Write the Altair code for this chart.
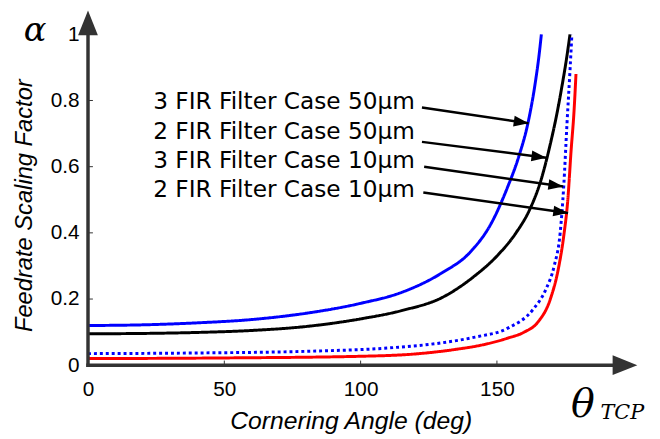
import altair as alt
import pandas as pd
import numpy as np

# ---------------- data ----------------
series_names = ["3 FIR Filter Case 50µm", "2 FIR Filter Case 50µm",
                "3 FIR Filter Case 10µm", "2 FIR Filter Case 10µm"]
series_colors = ["#0000ff", "#000000", "#0000ff", "#ff0000"]

blue50_x = [0, 20, 40, 60, 80, 100, 115, 130, 140, 148, 154, 158, 161.6, 164, 165.5, 166.3]
blue50_y = [0.12, 0.122, 0.128, 0.138, 0.157, 0.187, 0.22, 0.28, 0.34, 0.43, 0.54, 0.63, 0.74, 0.85, 0.94, 1.0]

black50_x = [0, 20, 40, 60, 80, 100, 115, 130, 141.7, 150, 157, 162, 166, 169.6, 172, 174, 175.6, 176.8]
black50_y = [0.095, 0.096, 0.099, 0.105, 0.117, 0.14, 0.165, 0.205, 0.269, 0.33, 0.40, 0.47, 0.555, 0.669, 0.76, 0.85, 0.93, 1.0]

blue10_x = [0, 40, 80, 110, 130, 142, 154, 163.4, 168, 171, 173.2, 174.5, 175.7, 176.8, 177.5]
blue10_y = [0.035, 0.037, 0.042, 0.052, 0.068, 0.085, 0.112, 0.17, 0.23, 0.30, 0.40, 0.54, 0.73, 0.89, 1.0]

red10_x = [0, 50, 100, 120, 135, 145, 154, 160, 165, 169.6, 172.5, 174.5, 176, 177.2, 178.3, 179]
red10_y = [0.02, 0.022, 0.027, 0.034, 0.048, 0.062, 0.082, 0.1, 0.13, 0.2, 0.29, 0.39, 0.5, 0.648, 0.77, 0.88]

# annotation labels and arrows (data coordinates)
label_x = [23.9, 23.9, 23.9, 23.9]
label_y = [0.773, 0.684, 0.597, 0.507]
arrow_x1 = [122.5, 122.5, 123.3, 123.0]
arrow_y1 = [0.779, 0.675, 0.600, 0.522]
arrow_x2 = [161.6, 168.1, 174.3, 176.1]
arrow_y2 = [0.731, 0.627, 0.540, 0.460]

x_ticks = [0, 50, 100, 150]
y_ticks = [0, 0.2, 0.4, 0.6, 0.8, 1]

# math symbols
sym_text = ["α", "θ", "TCP"]
sym_x = [-23.6, 177.2, 188.0]
sym_y = [0.979, -0.158, -0.164]
sym_size = [34, 40, 21]

# ---------------- chart ----------------
W, H = 552, 359
XMAX, YMAX = 200.0, 1.0716
px_x = W / XMAX
px_y = H / YMAX

xs = alt.Scale(domain=[0, XMAX], nice=False, zero=False)
ys = alt.Scale(domain=[0, YMAX], nice=False, zero=False)

rows = []
for name, xx, yy in zip(series_names,
                        [blue50_x, black50_x, blue10_x, red10_x],
                        [blue50_y, black50_y, blue10_y, red10_y]):
    for i, (a, b) in enumerate(zip(xx, yy)):
        rows.append({"series": name, "x": a, "y": b, "i": i})
curves = pd.DataFrame(rows)

lines = alt.Chart(curves).mark_line(strokeWidth=3, interpolate="monotone").encode(
    x=alt.X("x:Q", scale=xs,
            axis=alt.Axis(values=x_ticks, domain=False, ticks=False, grid=False,
                          labelFlush=False, labelFont="Liberation Sans", labelFontSize=21,
                          labelColor="#000", labelPadding=14,
                          title="Cornering Angle (deg)", titleFont="Liberation Sans",
                          titleFontSize=25, titleFontStyle="italic", titleFontWeight="normal",
                          titleColor="#000", titleX=266, titleY=64,
                          titleBaseline="alphabetic", titleAlign="center")),
    y=alt.Y("y:Q", scale=ys,
            axis=alt.Axis(values=y_ticks, format="~g", domain=False, ticks=False, grid=False,
                          labelFlush=False, labelFont="Liberation Sans", labelFontSize=21,
                          labelColor="#000", labelPadding=9,
                          title="Feedrate Scaling Factor", titleFont="Liberation Sans",
                          titleFontSize=24, titleFontStyle="italic", titleFontWeight="normal",
                          titleColor="#000", titleX=-57, titleY=197, titleAngle=270,
                          titleBaseline="alphabetic", titleAlign="center")),
    color=alt.Color("series:N", scale=alt.Scale(domain=series_names, range=series_colors), legend=None),
    strokeDash=alt.StrokeDash("series:N", scale=alt.Scale(domain=series_names,
                              range=[[1, 0], [1, 0], [3, 3], [1, 0]]), legend=None),
    detail="series:N",
    order="i:Q",
)

ann = pd.DataFrame({"label": series_names, "lx": label_x, "ly": label_y,
                    "x1": arrow_x1, "y1": arrow_y1, "x2": arrow_x2, "y2": arrow_y2})
ann["ang"] = np.degrees(np.arctan2(-(ann["y2"] - ann["y1"]) * px_y, (ann["x2"] - ann["x1"]) * px_x))

labels = alt.Chart(ann).mark_text(align="left", baseline="alphabetic", font="DejaVu Sans",
                                  fontSize=23.5, color="#000").encode(
    x=alt.X("lx:Q", scale=xs), y=alt.Y("ly:Q", scale=ys), text="label:N")

arrow_lines = alt.Chart(ann).mark_rule(strokeWidth=2.5, color="#000").encode(
    x=alt.X("x1:Q", scale=xs), y=alt.Y("y1:Q", scale=ys), x2="x2:Q", y2="y2:Q")

arrow_heads = alt.Chart(ann).mark_point(shape="M0,0 L-2,-0.72 L-2,0.72 Z", filled=True,
                                        size=225, color="#000", opacity=1, strokeWidth=0).encode(
    x=alt.X("x2:Q", scale=xs), y=alt.Y("y2:Q", scale=ys), angle=alt.Angle("ang:Q", scale=None))

# axes with arrowheads
axis_df = pd.DataFrame({"x": [0], "y": [0], "xe": [XMAX - 25 / px_x + 1], "ye": [YMAX - 25 / px_y + 0.01]})
x_axis = alt.Chart(axis_df).mark_rule(strokeWidth=3.5, color="#333333", strokeCap="square").encode(
    x=alt.X("x:Q", scale=xs), x2="xe:Q", y=alt.Y("y:Q", scale=ys))
y_axis = alt.Chart(axis_df).mark_rule(strokeWidth=3.5, color="#333333", strokeCap="square").encode(
    x=alt.X("x:Q", scale=xs), y=alt.Y("y:Q", scale=ys), y2="ye:Q")

tip_df = pd.DataFrame({"tx": [XMAX + 1.5], "ty": [0.0], "ux": [0.0], "uy": [YMAX]})
x_tip = alt.Chart(tip_df).mark_point(shape="M0,0 L-2,-0.8 L-2,0.8 Z", filled=True, size=625,
                                     color="#333333", opacity=1, strokeWidth=0).encode(
    x=alt.X("tx:Q", scale=xs), y=alt.Y("ty:Q", scale=ys))
y_tip = alt.Chart(tip_df).mark_point(shape="M0,0 L-0.8,2 L0.8,2 Z", filled=True, size=625,
                                     color="#333333", opacity=1, strokeWidth=0).encode(
    x=alt.X("ux:Q", scale=xs), y=alt.Y("uy:Q", scale=ys))

xt = pd.DataFrame({"v": [50, 100, 150], "z": [0.0] * 3, "h": [0.014] * 3})
yt = pd.DataFrame({"v": [0.2, 0.4, 0.6, 0.8], "z": [0.0] * 4, "h": [1.8] * 4})
x_tick_marks = alt.Chart(xt).mark_rule(strokeWidth=1, color="#333333").encode(
    x=alt.X("v:Q", scale=xs), y=alt.Y("z:Q", scale=ys), y2="h:Q")
y_tick_marks = alt.Chart(yt).mark_rule(strokeWidth=1, color="#333333").encode(
    y=alt.Y("v:Q", scale=ys), x=alt.X("z:Q", scale=xs), x2="h:Q")

sym = pd.DataFrame({"t": sym_text, "x": sym_x, "y": sym_y, "s": sym_size})
symbols = alt.Chart(sym).mark_text(align="left", baseline="alphabetic", font="DejaVu Serif",
                                   fontStyle="italic", color="#000").encode(
    x=alt.X("x:Q", scale=xs), y=alt.Y("y:Q", scale=ys), text="t:N",
    size=alt.Size("s:Q", scale=None, legend=None))

chart = alt.layer(lines, x_tick_marks, y_tick_marks, x_axis, y_axis, x_tip, y_tip,
                  arrow_lines, arrow_heads, labels, symbols).properties(
    width=W, height=H,
    padding={"left": 81, "top": 0, "right": 19, "bottom": 68},
    autosize=alt.AutoSizeParams(type="none"),
).configure_view(stroke=None)

chart.save("out.html", embed_options={"renderer": "svg", "actions": False})
